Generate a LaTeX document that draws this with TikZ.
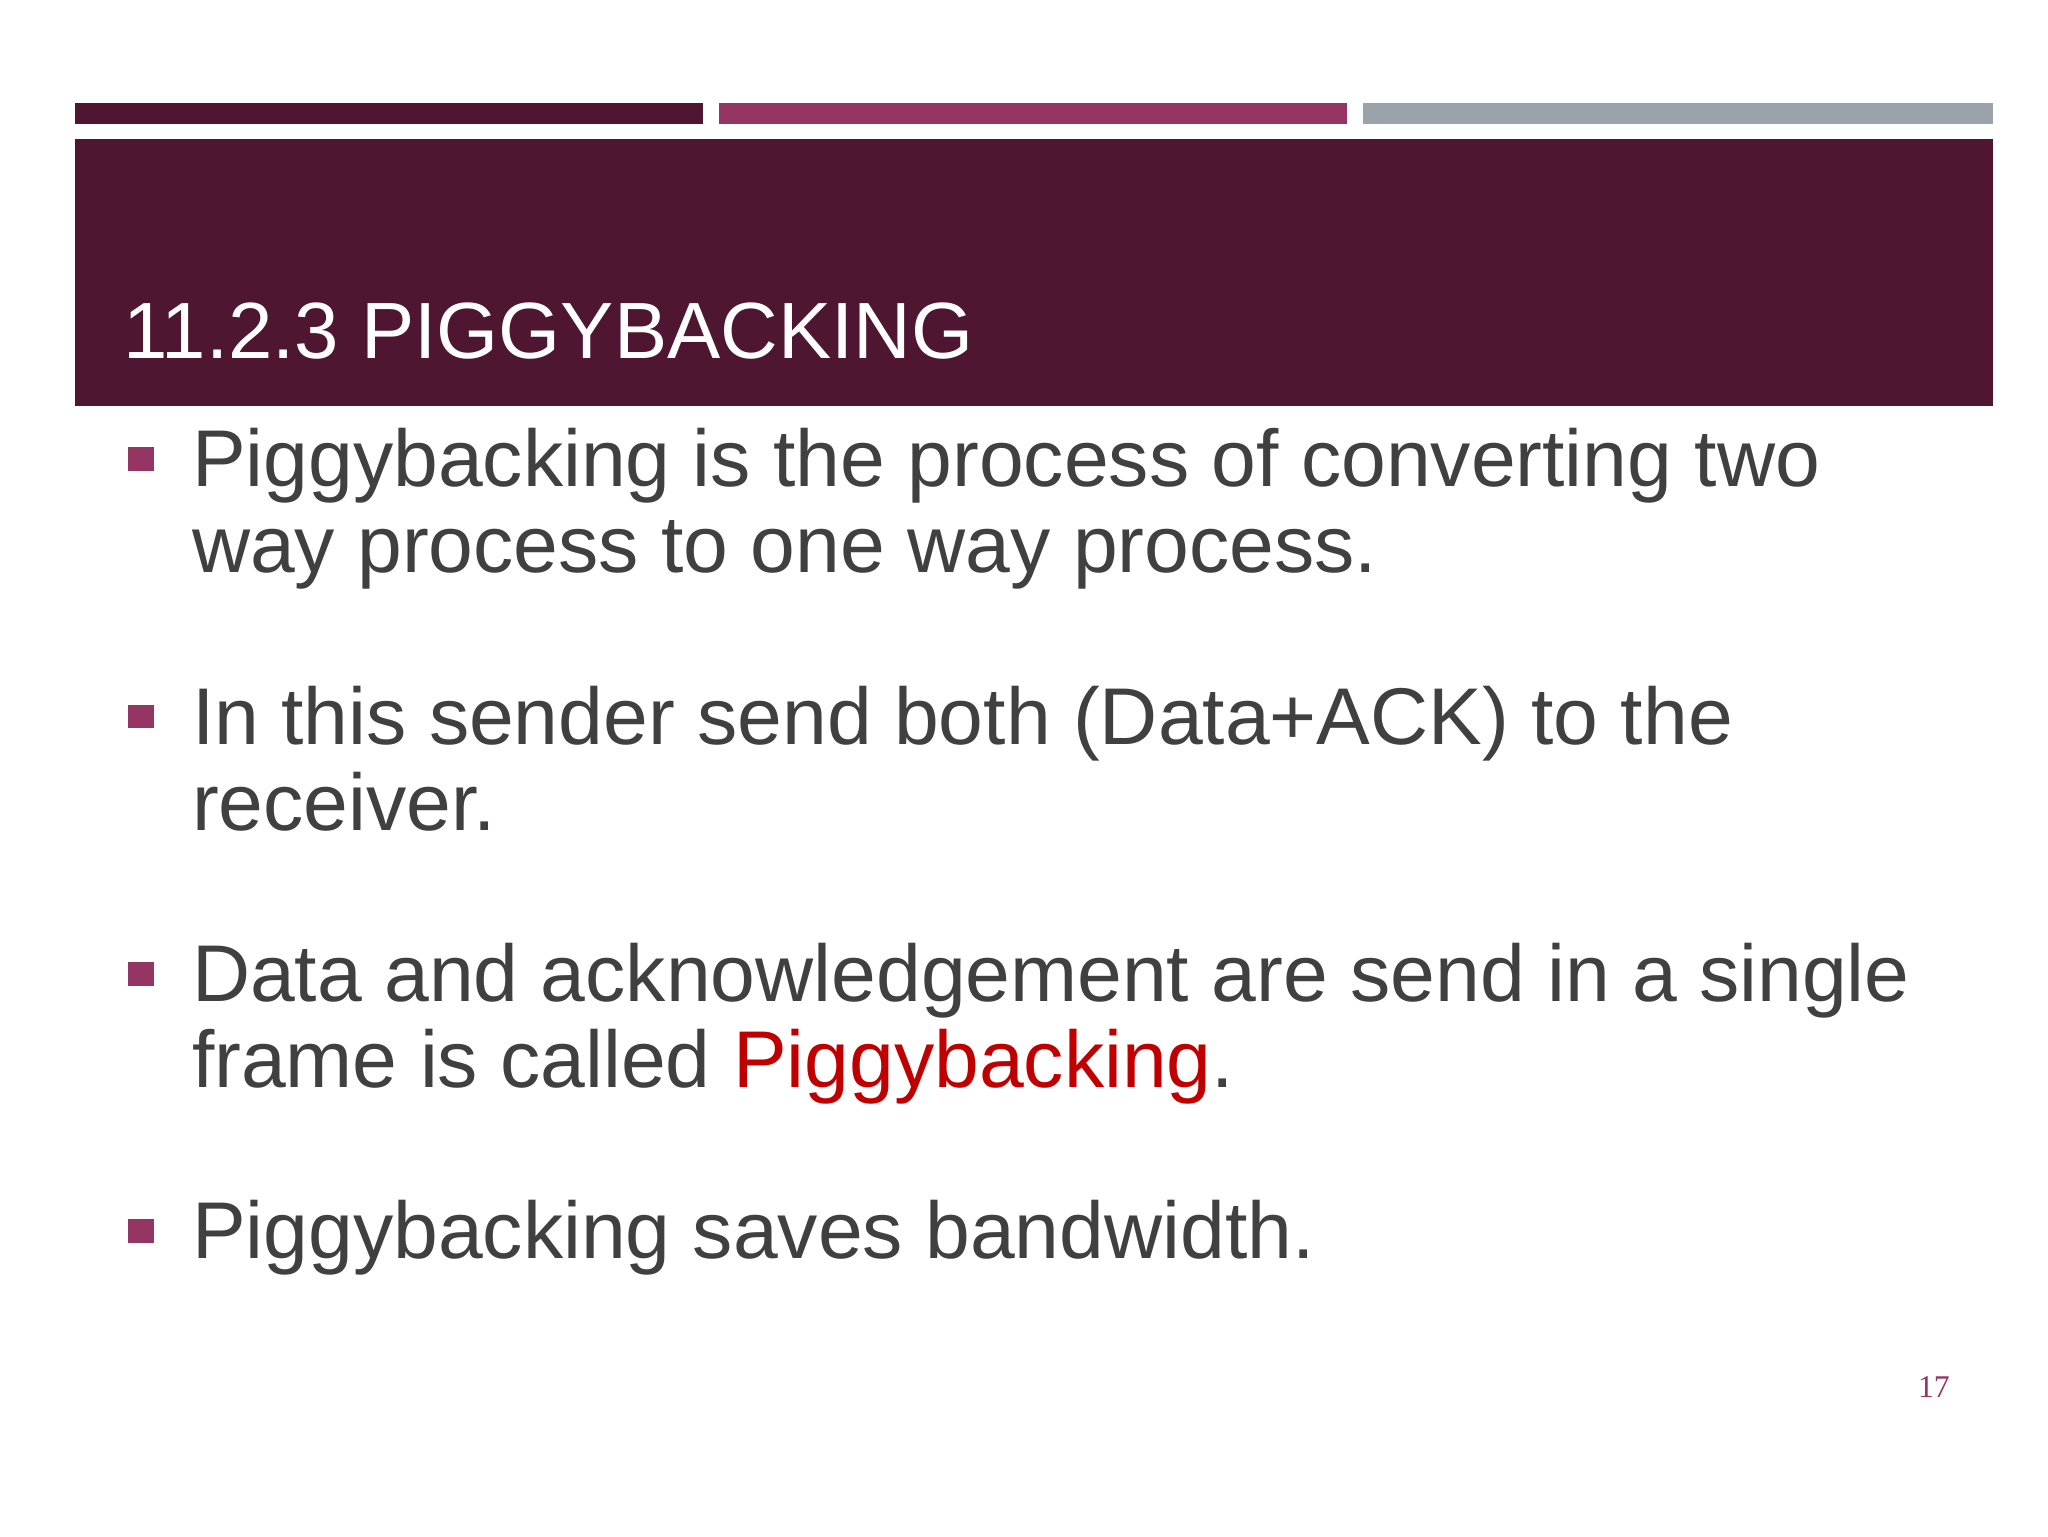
\documentclass[tikz,border=0pt]{standalone}
\usepackage{fontspec}
\setmainfont{Liberation Sans}
\newfontfamily\serifpn{Liberation Serif}
\definecolor{plum}{HTML}{4F1632}
\definecolor{mag}{HTML}{953564}
\definecolor{greybar}{HTML}{9AA3AB}
\definecolor{txt}{HTML}{404040}
\definecolor{redt}{HTML}{C00000}
\begin{document}
\begin{tikzpicture}[x=0.013196cm,y=-0.013196cm,
  line/.style={anchor=base west,inner sep=0pt,text=txt,font=\fontsize{22.9}{24}\selectfont},
  bul/.style={fill=mag,draw=none}]
\useasboundingbox (0,0) rectangle (1552,1164);
\fill[white] (0,0) rectangle (1552,1164);
\fill[plum] (57,78) rectangle (533,94);
\fill[mag] (545,78) rectangle (1021,94);
\fill[greybar] (1033,78) rectangle (1510,94);
\fill[plum] (57,105) rectangle (1510,308);
\node[anchor=base west,inner sep=0pt,text=white,font=\fontsize{22.7}{24}\selectfont] (title) at (93,272) {11.2.3 PIGGYBACKING};
\foreach \y in {339,534,729,924}{\fill[bul] (97,\y) rectangle (117,\y+18);}
\node[line] (l1) at (145,369) {Piggybacking is the process of converting two};
\node[line] (l2) at (145,434) {way process to one way process.};
\node[line] (l3) at (145,564) {In this sender send both (Data+ACK) to the};
\node[line] (l4) at (145,629) {receiver.};
\node[line] (l5) at (145,759) {Data and acknowledgement are send in a single};
\node[line] (l6) at (145,824) {frame is called \textcolor{redt}{Piggybacking}.};
\node[line] (l7) at (145,954) {Piggybacking saves bandwidth.};
\node[anchor=base east,inner sep=0pt,text=mag,font=\serifpn\fontsize{9}{10}\selectfont] (pn) at (1478,1059) {17};
\end{tikzpicture}
\end{document}
